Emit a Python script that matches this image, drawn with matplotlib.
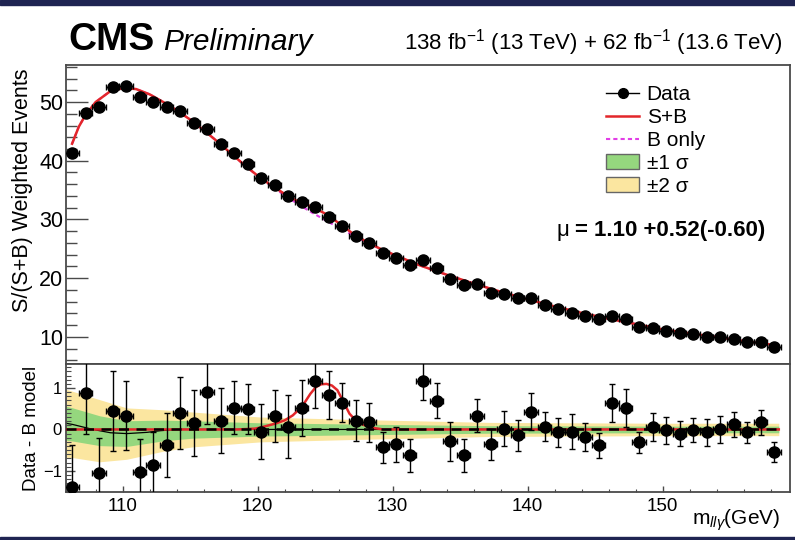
# CMS H -> Z gamma style mass fit, S/(S+B) weighted
# top: weighted events with S+B and B-only fits, bottom: data - B model

import numpy as np
import matplotlib
matplotlib.use("Agg")
from matplotlib import pyplot as plt
from matplotlib.lines import Line2D
from matplotlib.patches import Patch, Rectangle
from matplotlib.ticker import MultipleLocator

plt.rcParams['font.family'] = ['Liberation Sans', 'DejaVu Sans']
plt.rcParams['mathtext.fontset'] = 'custom'
plt.rcParams['mathtext.rm'] = 'Liberation Sans'
plt.rcParams['mathtext.it'] = 'Liberation Sans:italic'
plt.rcParams['mathtext.bf'] = 'Liberation Sans:bold'

# bin centres, 1 GeV bins
mass = np.arange(106.25, 158.5, 1.0)

events = [41.3, 48.1, 49.1, 52.6, 52.7, 50.9, 50.0, 49.1, 48.5, 46.4,
          45.4, 42.9, 41.3, 39.4, 37.0, 35.9, 34.0, 33.0, 32.1, 30.4,
          28.9, 27.2, 26.0, 24.3, 23.4, 22.3, 23.1, 21.7, 19.9, 18.9,
          19.0, 17.5, 17.3, 16.6, 16.6, 15.5, 14.8, 14.1, 13.6, 13.1,
          13.6, 13.1, 11.7, 11.5, 11.0, 10.7, 10.5, 10.0, 10.0, 9.7,
          9.1, 9.1, 8.3]

resid = [-1.38, 0.88, -1.05, 0.45, 0.33, -1.02, -0.86, -0.38, 0.40, 0.15,
         0.90, 0.21, 0.52, 0.50, -0.05, 0.33, 0.07, 0.52, 1.17, 0.83,
         0.65, 0.21, 0.17, -0.43, -0.36, -0.62, 1.17, 0.69, -0.29, -0.62,
         0.33, -0.36, 0.02, -0.14, 0.43, 0.07, -0.07, -0.05, -0.19, -0.38,
         0.64, 0.52, -0.31, 0.05, -0.02, -0.10, -0.02, -0.07, 0.00, 0.12,
         -0.07, 0.17, -0.55]

err = [1.0, 1.0, 0.85, 0.97, 0.83, 0.8, 0.8, 0.77, 0.87, 0.8,
       0.76, 0.79, 0.64, 0.6, 0.67, 0.63, 0.76, 0.68, 0.65, 0.57,
       0.47, 0.5, 0.47, 0.37, 0.43, 0.4, 0.47, 0.42, 0.48, 0.4,
       0.4, 0.38, 0.42, 0.38, 0.45, 0.35, 0.35, 0.43, 0.34, 0.3,
       0.45, 0.45, 0.25, 0.34, 0.33, 0.31, 0.29, 0.32, 0.32, 0.3,
       0.26, 0.3, 0.24]

# fitted curves
fit_mass = [106.25, 106.75, 107.25, 108, 109, 110, 111, 112, 113, 114,
            115, 116, 117, 118, 119, 120, 121, 122, 123, 124,
            125, 126, 127, 128, 129, 130, 132, 134, 136, 138,
            140, 142, 144, 146, 148, 150, 152, 154, 156, 158.4]
bonly = [42.9, 45.8, 47.8, 50.0, 51.7, 52.4, 52.2, 51.3, 50.0, 48.6,
         47.0, 45.2, 43.3, 41.3, 39.3, 37.4, 35.7, 34.1, 32.6, 31.2,
         29.9, 28.6, 27.4, 26.2, 25.1, 24.1, 22.2, 20.6, 19.1, 17.7,
         16.4, 15.2, 14.1, 13.1, 12.2, 11.3, 10.6, 10.0, 9.3, 8.6]
splusb = [42.9, 45.8, 47.8, 50.0, 51.7, 52.4, 52.2, 51.3, 50.0, 48.6,
          47.0, 45.2, 43.3, 41.3, 39.3, 37.44, 35.82, 34.35, 33.05, 32.2,
          31.0, 29.4, 27.68, 26.28, 25.11, 24.1, 22.2, 20.6, 19.1, 17.7,
          16.4, 15.2, 14.1, 13.1, 12.2, 11.3, 10.6, 10.0, 9.3, 8.6]

# signal component in the ratio panel
sig_mass = [105.8, 118.5, 119.8, 120.25, 121.3, 122.0, 122.6, 123.3, 123.9, 124.3,
            124.7, 125.1, 125.5, 125.9, 126.3, 126.8, 127.4, 128.3, 129.3, 158.6]
sig_vals = [0, 0, 0.02, 0.05, 0.14, 0.22, 0.34, 0.56, 0.86, 1.02,
            1.09, 1.10, 1.06, 0.95, 0.70, 0.38, 0.17, 0.05, 0, 0]

# B-only fit relative to B model, and the uncertainty bands around it
bline_mass = [105.8, 106.3, 107.8, 109.1, 110.3, 111.8, 112.8, 114.0, 158.6]
bline_vals = [0.15, 0.12, 0.0, -0.08, -0.10, -0.07, -0.03, 0.0, 0.0]
band_mass = [105.8, 106.3, 108.3, 110.3, 113.0, 115.2, 120.2, 127.4, 137.2, 150.0, 158.6]
band_1sig = [0.41, 0.40, 0.36, 0.31, 0.25, 0.21, 0.16, 0.13, 0.09, 0.08, 0.08]
band_2sig = [0.82, 0.80, 0.75, 0.62, 0.50, 0.42, 0.30, 0.24, 0.17, 0.15, 0.15]

red = '#e3262a'
magenta = '#e23ee6'
green = '#95d77e'
yellow = '#fbe6a0'
frame = '#4a4a4a'

W, H = 795, 540
fig = plt.figure(figsize=(W / 100, H / 100), dpi=100)

# slide frame bars
fig.patches.append(Rectangle((0, 1 - 5 / H), 1, 5 / H, transform=fig.transFigure,
                             color='#1f2452', zorder=0))
fig.patches.append(Rectangle((0, 0), 1, 3 / H, transform=fig.transFigure,
                             color='#1f2452', zorder=0))

ax = fig.add_axes([66 / W, 1 - 364 / H, 724 / W, 299 / H])
axr = fig.add_axes([66 / W, 1 - 492 / H, 724 / W, 128 / H], sharex=ax)

# ---- top panel
ax.plot(fit_mass, bonly, color=magenta, lw=1.5, ls=(0, (2, 1.5)), zorder=2)
ax.plot(fit_mass, splusb, color=red, lw=1.8, zorder=3)
ax.errorbar(mass, events, xerr=0.5, fmt='o', color='k', ms=8,
            elinewidth=1, capsize=2, capthick=1, zorder=4)

ax.set_xlim(105.8, 159.43)
ax.set_ylim(5.4, 56.3)
ax.yaxis.set_major_locator(MultipleLocator(10))
ax.yaxis.set_minor_locator(MultipleLocator(2))
ax.tick_params(axis='y', which='major', direction='in', length=16, width=1,
               labelsize=15.5, pad=2, color=frame)
ax.tick_params(axis='y', which='minor', direction='in', length=8, width=1, color=frame)
ax.tick_params(axis='x', which='both', length=0, labelbottom=False)
ax.set_ylabel('S/(S+B) Weighted Events', fontsize=15.5)
ax.yaxis.set_label_coords(-0.045, 0.58)

handles = [Line2D([], [], color='k', marker='o', ms=7, lw=1),
           Line2D([], [], color=red, lw=1.8),
           Line2D([], [], color=magenta, lw=1.5, ls=(0, (2, 1.5))),
           Patch(facecolor=green, edgecolor='#666666', lw=1),
           Patch(facecolor=yellow, edgecolor='#666666', lw=1)]
labels = ['Data', 'S+B', 'B only', '\u00b11 \u03c3', '\u00b12 \u03c3']
fig.legend(handles, labels, loc='upper left', bbox_to_anchor=(606 / W, 1 - 85 / H),
           frameon=False, fontsize=15, handlelength=1.6, handletextpad=0.35,
           labelspacing=0.19, borderpad=0, borderaxespad=0)

fig.text(557 / W, 1 - 236 / H, '\u03bc', fontsize=16, va='baseline', ha='left')
fig.text(575 / W, 1 - 236 / H, '= 1.10 +0.52(-0.60)', fontsize=16,
         fontweight='bold', va='baseline', ha='left')

# ---- bottom panel
b1 = np.array(bline_vals)
band_c = np.interp(band_mass, bline_mass, bline_vals)
axr.fill_between(band_mass, band_c - np.array(band_2sig), band_c + np.array(band_2sig),
                 color=yellow, lw=0, zorder=1)
axr.fill_between(band_mass, band_c - np.array(band_1sig), band_c + np.array(band_1sig),
                 color=green, lw=0, zorder=1)
axr.plot(bline_mass, b1, color='k', lw=0.9, zorder=2)
axr.plot(sig_mass, sig_vals, color=red, lw=1.8, zorder=3)
axr.plot([105.8, 158.9], [0, 0], color='k', lw=1.8, ls=(0, (4, 3)), zorder=3)
axr.errorbar(mass, resid, xerr=0.5, yerr=err, fmt='o', color='k', ms=8,
             elinewidth=1, capsize=2.2, capthick=1, zorder=4)

axr.set_ylim(-1.51, 1.58)
axr.yaxis.set_major_locator(MultipleLocator(1))
axr.yaxis.set_minor_locator(MultipleLocator(0.1))
axr.xaxis.set_major_locator(MultipleLocator(10))
axr.xaxis.set_minor_locator(MultipleLocator(2))
axr.tick_params(axis='y', which='major', direction='in', length=6.5, width=1,
                labelsize=12, pad=3, color=frame)
axr.tick_params(axis='y', which='minor', direction='in', length=3.5, width=0.8, color=frame)
axr.tick_params(axis='x', which='major', direction='in', length=4, width=1,
                labelsize=13.5, pad=4, color=frame)
axr.tick_params(axis='x', which='minor', direction='in', length=2.5, width=0.8, color=frame)
axr.set_ylabel('Data - B model', fontsize=13.5)
axr.yaxis.set_label_coords(-0.036, 0.5)

fig.text(780 / W, 1 - 520 / H, r'm$_{ll\gamma}$(GeV)', fontsize=15,
         ha='right', va='center')

for a in (ax, axr):
    for s in a.spines.values():
        s.set_color(frame)
        s.set_linewidth(1.3)

# header
fig.text(68 / W, 1 - 50 / H, 'CMS', fontsize=28, fontweight='bold', va='baseline')
fig.text(163 / W, 1 - 50 / H, 'Preliminary', fontsize=21.5, style='italic', va='baseline')
fig.text(782 / W, 1 - 49 / H, r'138 fb$^{-1}$ (13 TeV) + 62 fb$^{-1}$ (13.6 TeV)',
         fontsize=16, ha='right', va='baseline')

fig.savefig('out.png', dpi=100)
